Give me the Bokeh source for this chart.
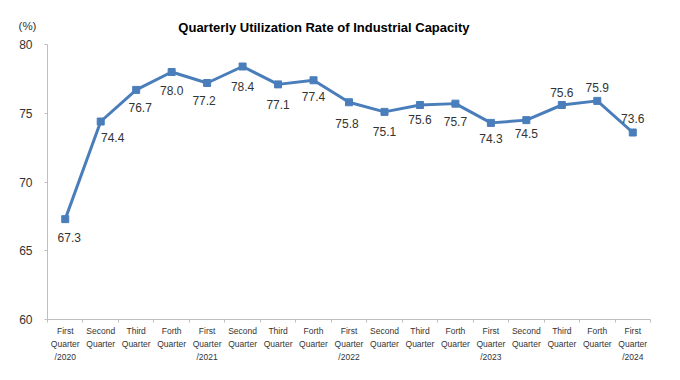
from bokeh.plotting import figure
from bokeh.models import (ColumnDataSource, LabelSet, Label, Range1d, FixedTicker,
                          LinearAxis, CustomJSTickFormatter)
from bokeh.core.properties import value
from bokeh.embed import file_html
from bokeh.resources import INLINE

# ---- data ----
quarters = ["Q1 2020", "Q2 2020", "Q3 2020", "Q4 2020",
            "Q1 2021", "Q2 2021", "Q3 2021", "Q4 2021",
            "Q1 2022", "Q2 2022", "Q3 2022", "Q4 2022",
            "Q1 2023", "Q2 2023", "Q3 2023", "Q4 2023",
            "Q1 2024"]
tick_labels = ["First\nQuarter\n/2020", "Second\nQuarter", "Third\nQuarter", "Forth\nQuarter",
               "First\nQuarter\n/2021", "Second\nQuarter", "Third\nQuarter", "Forth\nQuarter",
               "First\nQuarter\n/2022", "Second\nQuarter", "Third\nQuarter", "Forth\nQuarter",
               "First\nQuarter\n/2023", "Second\nQuarter", "Third\nQuarter", "Forth\nQuarter",
               "First\nQuarter\n/2024"]
utilization = [67.3, 74.4, 76.7, 78.0, 77.2, 78.4, 77.1, 77.4,
               75.8, 75.1, 75.6, 75.7, 74.3, 74.5, 75.6, 75.9, 73.6]
y_ticks = [60, 65, 70, 75, 80]

# ---- label placement (style) ----
label_dy = [-18, -16, -18, -18, -17, -20, -20, -16, -21, -20, -14, -18, -16, -13, 13, 13, 14]
label_dx = [4, 12, 4, 0, -3, 0, 0, 0, -2, 0, 0, 0, 0, 0, 0, 0, 0]

BLUE = "#4A7EBB"
TEXT = "#333333"
AXIS = "#BFBFBF"
FONT = "Liberation Sans"

n = len(quarters)
centers = [i + 0.5 for i in range(n)]      # category slot centres
bounds = list(range(n + 1))                # category slot boundaries

p = figure(width=672, height=372, x_range=Range1d(0, n), y_range=Range1d(60, 80),
           x_axis_location=None, output_backend="svg", toolbar_location=None,
           min_border_left=47, min_border_right=22, min_border_top=44, min_border_bottom=53)
p.outline_line_color = None
p.xgrid.grid_line_color = None
p.ygrid.grid_line_color = None
p.background_fill_color = "white"
p.border_fill_color = "white"

# title and unit, placed in the top panel (not clipped to the frame)
title = Label(x=280, y=17, x_units="screen", y_units="screen",
              text="Quarterly  Utilization Rate of Industrial  Capacity",
              text_font=FONT, text_font_size="13px", text_font_style="bold", text_color="black",
              text_align="center", text_baseline="middle")
p.add_layout(title, "above")

unit = Label(x=-20, y=4, x_units="screen", y_units="screen", text="(%)",
             text_font=FONT, text_font_size="11.5px", text_color=TEXT,
             text_align="center", text_baseline="middle")
p.add_layout(unit, "above")

# y axis
ya = p.yaxis[0]
ya.ticker = FixedTicker(ticks=y_ticks)
ya.minor_tick_line_color = None
ya.major_tick_in = 0
ya.major_tick_out = 3
ya.major_tick_line_color = AXIS
ya.axis_line_color = AXIS
ya.major_label_text_font = FONT
ya.major_label_text_font_size = "12px"
ya.major_label_text_color = TEXT
ya.major_label_standoff = 12

# boundary ticks axis (nearest to frame)
ta = LinearAxis(ticker=FixedTicker(ticks=bounds),
                formatter=CustomJSTickFormatter(code="return ''"))
ta.major_tick_in = 0
ta.major_tick_out = 3
ta.major_tick_line_color = AXIS
ta.minor_tick_line_color = None
ta.axis_line_color = AXIS
ta.major_label_text_font_size = "1px"
ta.major_label_standoff = 0
p.add_layout(ta, "below")

# category labels axis
ca = LinearAxis(ticker=FixedTicker(ticks=centers),
                formatter=CustomJSTickFormatter(args=dict(labels=tick_labels),
                                                code="return labels[Math.floor(tick)]"))
ca.axis_line_color = None
ca.major_tick_line_color = None
ca.minor_tick_line_color = None
ca.major_tick_in = 0
ca.major_tick_out = 0
ca.major_label_standoff = 3
ca.major_label_text_font = FONT
ca.major_label_text_font_size = "8.5px"
ca.major_label_text_color = TEXT
ca.major_label_text_line_height = 1.3
p.add_layout(ca, "below")

src = ColumnDataSource(dict(
    x=centers, y=utilization,
    text=[f"{v:.1f}" for v in utilization],
    dy=label_dy, dx=label_dx))

p.line("x", "y", source=src, line_color=BLUE, line_width=3)
p.scatter("x", "y", source=src, marker="square", size=7, fill_color=BLUE, line_color=BLUE)

labels = LabelSet(x="x", y="y", text="text", source=src, x_offset="dx", y_offset="dy",
                  text_align="center", text_baseline="middle",
                  text_font=value(FONT), text_font_size=value("12px"), text_color=TEXT)
p.add_layout(labels)

open("out.html", "w").write(file_html(p, INLINE))
